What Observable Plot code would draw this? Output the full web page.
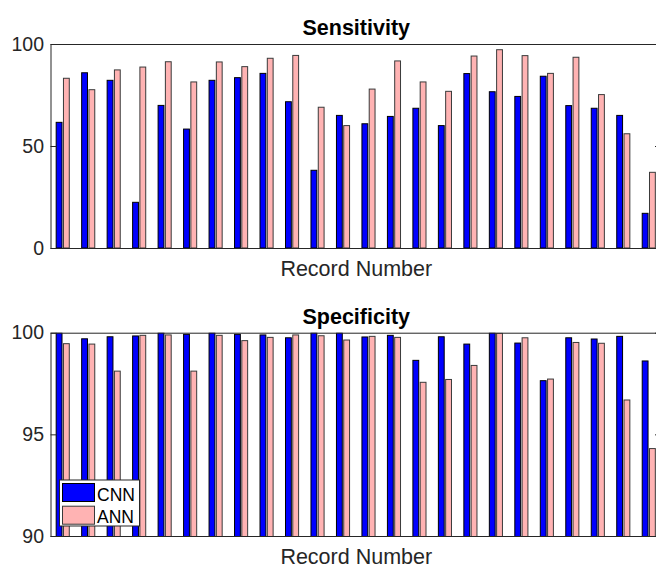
<!DOCTYPE html>
<html><head><meta charset="utf-8">
<script src="https://cdn.jsdelivr.net/npm/d3@7"></script>
<script src="https://cdn.jsdelivr.net/npm/@observablehq/plot@0.6"></script>
<style>
html,body{margin:0;padding:0;background:#fff;overflow:hidden;}
#wrap{width:656px;height:567px;overflow:hidden;position:relative;background:#fff;}
#wrap svg{display:block;max-width:none !important;}
</style></head><body><div id="wrap"></div>
<script>
const records = [1,2,3,4,5,6,7,8,9,10,11,12,13,14,15,16,17,18,19,20,21,22,23,24];
const seriesNames = ["CNN", "ANN"];
const seriesColors = ["#0000ff", "#ffb3b3"];
const seriesEdges = ["#000000", "#3a3a3a"];
const sensCNN = [61.6,85.9,82.2,22.4,69.9,58.3,82.2,83.5,85.6,71.7,38.1,65.0,60.9,64.5,68.5,60.0,85.5,76.6,74.3,84.2,69.8,68.5,65.0,17.0];
const sensANN = [83.2,77.6,87.3,88.7,91.3,81.4,91.2,88.9,93.0,94.4,69.0,60.0,77.9,91.7,81.4,76.8,94.1,97.2,94.3,85.6,93.5,75.2,56.0,37.1];
const specCNN = [100.0,99.70,99.80,99.84,100.0,99.92,100.0,99.92,99.89,99.75,100.0,100.0,99.79,99.87,98.64,99.80,99.44,100.0,99.49,97.64,99.75,99.69,99.82,98.61];
const specANN = [99.46,99.44,98.11,99.87,99.89,98.11,99.87,99.61,99.77,99.89,99.85,99.64,99.82,99.77,97.56,97.70,98.39,99.98,99.75,97.72,99.52,99.48,96.69,94.30];
const sensTicks = [0, 50, 100];
const specTicks = [90, 95, 100];
const xLabel = "Record Number";

const FONT = "'Liberation Sans', Arial, Helvetica, sans-serif";
const W = 662, ML = 50.5, MR = 1;
const frameW = W - ML - MR;
const groupW = 2 / 3.5, barW = groupW / 2 * 0.8;

function panel({title, cnn, ann, yDomain, yTicks, height, marginTop, marginBottom, titleDy, labelDy}) {
  const rows = [];
  records.forEach((r, i) => {
    rows.push({record: r, series: "CNN", k: 0, value: cnn[i]});
    rows.push({record: r, series: "ANN", k: 1, value: ann[i]});
  });
  const off = k => (k === 0 ? -1 : 1) * groupW / 4;
  const barMarks = seriesNames.map((s, k) =>
    Plot.rectY(rows.filter(d => d.series === s), {
      x1: d => d.record + off(d.k) - barW / 2,
      x2: d => d.record + off(d.k) + barW / 2,
      y1: () => 0,
      y2: "value",
      fill: seriesColors[k],
      stroke: seriesEdges[k],
      strokeWidth: 1,
      clip: true
    })
  );
  return Plot.plot({
    width: W, height, marginLeft: ML, marginRight: MR, marginTop, marginBottom,
    style: {fontFamily: FONT, background: "white", color: "#262626", maxWidth: "none"},
    x: {domain: [0.52, 24.48], axis: null},
    y: {domain: yDomain, axis: null},
    marks: [
      ...barMarks,
      Plot.ruleY(yTicks, {insetRight: frameW - 6, stroke: "#262626", strokeWidth: 1}),
      Plot.ruleY(yTicks, {insetLeft: frameW - 6, stroke: "#262626", strokeWidth: 1}),
      Plot.frame({stroke: "#262626", strokeWidth: 1}),
      Plot.axisY({ticks: yTicks, label: null, tickSize: 0, tickPadding: 7, fontSize: 19.5, fill: "#262626", tickFormat: d => String(d)}),
      Plot.text([title], {frameAnchor: "top", lineAnchor: "bottom", dy: titleDy, fontSize: 21.5, fontWeight: "bold", fill: "#000"}),
      Plot.text([xLabel], {frameAnchor: "bottom", lineAnchor: "bottom", dy: labelDy, fontSize: 21.5, fill: "#262626"})
    ]
  });
}

const wrap = document.getElementById("wrap");
const topPanel = panel({title: "Sensitivity", cnn: sensCNN, ann: sensANN, yDomain: [0, 100], yTicks: sensTicks,
  height: 290, marginTop: 44, marginBottom: 42, titleDy: -9.3, labelDy: 27.5});
const botPanel = panel({title: "Specificity", cnn: specCNN, ann: specANN, yDomain: [90, 100], yTicks: specTicks,
  height: 277, marginTop: 42.7, marginBottom: 31, titleDy: -9.4, labelDy: 27.5});
wrap.appendChild(topPanel);
wrap.appendChild(botPanel);

// legend inside the lower panel (lower-left corner)
const svg = d3.select(botPanel);
const lg = svg.append("g").attr("font-family", FONT).attr("text-anchor", "start");
lg.append("rect").attr("x", 59.5).attr("y", 190).attr("width", 80).attr("height", 46)
  .attr("fill", "#fff").attr("stroke", "#262626").attr("stroke-width", 1);
seriesNames.forEach((name, k) => {
  const y0 = 193.5 + k * 22.7;
  lg.append("rect").attr("x", 62.5).attr("y", y0).attr("width", 32).attr("height", 18)
    .attr("fill", seriesColors[k]).attr("stroke", seriesEdges[k]).attr("stroke-width", 1);
  lg.append("text").attr("x", 97).attr("y", y0 + 17).attr("font-size", 17.5).attr("fill", "#000").text(name);
});
</script></body></html>
